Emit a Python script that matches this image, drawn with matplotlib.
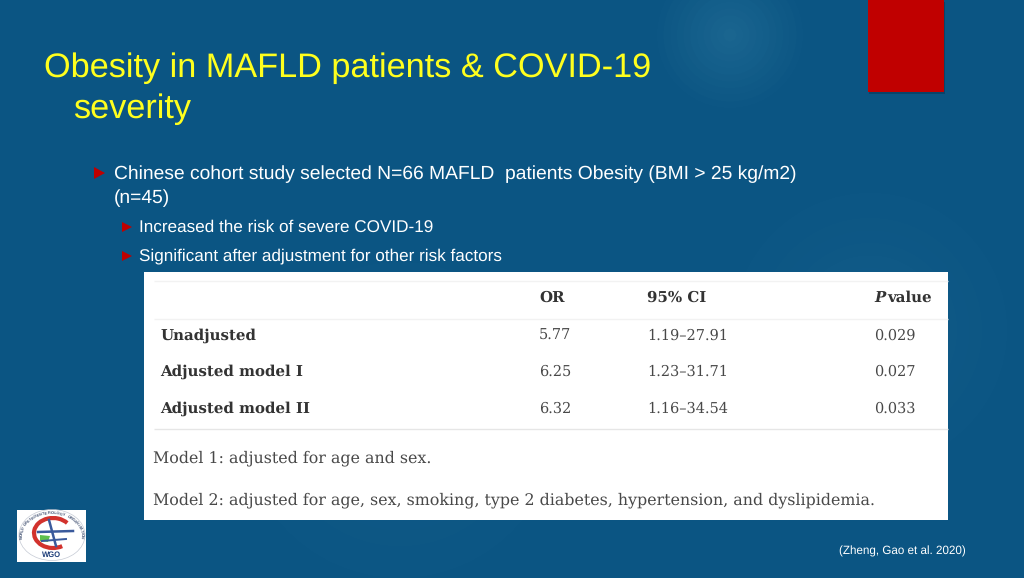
import numpy as np
import matplotlib
matplotlib.use('Agg')
import matplotlib.pyplot as plt
from matplotlib.colors import to_rgb
from matplotlib.patches import Rectangle, Circle, Ellipse, Arc, Polygon

plt.rcParams['text.hinting'] = 'no_hinting'
plt.rcParams['text.hinting_factor'] = 8

title_lines = ['Obesity in MAFLD patients & COVID-19', 'severity']
bullet_main = ['Chinese cohort study selected N=66 MAFLD  patients Obesity (BMI > 25 kg/m2)', '(n=45)']
bullet_sub = ['Increased the risk of severe COVID-19', 'Significant after adjustment for other risk factors']
row_names = ['Unadjusted', 'Adjusted model I', 'Adjusted model II']
or_vals = ['5.77', '6.25', '6.32']
ci_vals = ['1.19–27.91', '1.23–31.71', '1.16–34.54']
p_vals = ['0.029', '0.027', '0.033']
notes = ['Model 1: adjusted for age and sex.',
         'Model 2: adjusted for age, sex, smoking, type 2 diabetes, hypertension, and dyslipidemia.']
citation = '(Zheng, Gao et al. 2020)'
logo_ring = 'WORLD GASTROENTEROLOGY ORGANISATION'

BG = '#0b5583'
RED = '#c00000'
SERIF = 'DejaVu Serif'
SANS = 'Liberation Sans'

fig = plt.figure(figsize=(10.24, 5.78), dpi=100, facecolor=BG)
ax = fig.add_axes([0, 0, 1, 1])
ax.set_xlim(0, 1024)
ax.set_ylim(578, 0)
ax.axis('off')

# soft lighter blobs in the background, opaque rings so the tint stays blue
base = np.array(to_rgb(BG))
for (cx, cy, r, peak) in [(730, 35, 80, '#1b6690'), (870, 330, 150, '#125c89'), (400, 420, 190, '#105a87')]:
    for k in range(12, 0, -1):
        col = base + (np.array(to_rgb(peak)) - base) * (1 - k / 12)
        ax.add_patch(Circle((cx, cy), r * k / 12, fc=col, ec='none'))

# red tab, with a thin shadow
ax.add_patch(Rectangle((869, 2), 76, 92, fc='#0a3350', ec='none', alpha=0.5))
ax.add_patch(Rectangle((868, 0), 76, 92, fc=RED, ec='none'))

# title
ax.text(44, 68, title_lines[0], color='#ffff1e', fontsize=24.66, family=SANS, va='center')
ax.text(73, 109, title_lines[1], color='#ffff1e', fontsize=24.66, family=SANS, va='center')


def arrow(x, y, w, h):
    ax.add_patch(Polygon([(x, y - h / 2), (x + w, y), (x, y + h / 2)], fc=RED, ec='none'))


# bullets
arrow(94, 173, 11, 12)
ax.text(114, 174, bullet_main[0], color='white', fontsize=13.86, family=SANS, va='center')
ax.text(114, 198, bullet_main[1], color='white', fontsize=13.86, family=SANS, va='center')
for txt, y in zip(bullet_sub, [227, 256]):
    arrow(122, y, 10, 10)
    ax.text(139, y, txt, color='white', fontsize=12.3, family=SANS, va='center')

# table image panel
ax.add_patch(Rectangle((144, 272), 804, 248, fc='white', ec='none'))
for y, c in zip([281, 319, 429], ['#f2f2f2', '#f2f2f2', '#e6e6e6']):
    ax.plot([154, 948], [y, y], color=c, lw=1, solid_capstyle='butt')

TXT = '#484848'
HEAD = '#333333'
ax.text(539, 298, 'OR', color=HEAD, fontsize=10.8, family=SERIF, weight='bold', va='center')
ax.text(647, 298, '95% CI', color=HEAD, fontsize=10.8, family=SERIF, weight='bold', va='center')
ax.text(874, 298, 'P', color=HEAD, fontsize=10.8, family=SERIF, weight='bold', style='italic', va='center')
ax.text(887, 298, 'value', color=HEAD, fontsize=10.8, family=SERIF, weight='bold', va='center')

for name, o, ci, p, y in zip(row_names, or_vals, ci_vals, p_vals, [336, 372, 409]):
    ax.text(160, y, name, color=HEAD, fontsize=10.8, family=SERIF, weight='bold', va='center')
    ax.text(539, y, o, color=TXT, fontsize=10.45, family=SERIF, va='center')
    ax.text(647, y, ci, color=TXT, fontsize=10.45, family=SERIF, va='center')
    ax.text(874, y, p, color=TXT, fontsize=10.45, family=SERIF, va='center')

ax.text(153, 458, notes[0], color=TXT, fontsize=11.46, family=SERIF, va='center')
ax.text(153, 500, notes[1], color=TXT, fontsize=11.46, family=SERIF, va='center')

# WGO logo
ax.add_patch(Rectangle((17, 510), 69, 52, fc='white', ec='none'))
ax.add_patch(Ellipse((52, 535), 66, 51, fc='none', ec='#c5cad4', lw=0.5))
ax.add_patch(Arc((53, 533), 38, 30, theta1=55, theta2=325, color='#d2322d', lw=3))
ax.add_patch(Polygon([(40, 535), (50, 536), (48, 542), (40, 541)], fc='#5fc04c', ec='none'))
ax.plot([49, 56], [520, 546], color='#3a5a9c', lw=1.8)
ax.plot([38, 73], [532, 531], color='#3a5a9c', lw=1.8)
ax.plot([42, 66], [541, 539], color='#3a5a9c', lw=1.4)
ax.text(52, 555, 'WGO', color='#1f3f7a', fontsize=5.5, family=SANS, weight='bold', ha='center', va='center')
# ring lettering, one rotated character at a time
for ch, ang in zip(logo_ring, np.linspace(175, 365, len(logo_ring))):
    t = np.radians(ang)
    ax.text(52 + 30 * np.cos(t), 535 + 22 * np.sin(t), ch, color='#3f4f70', fontsize=2.8,
            family=SANS, weight='bold', ha='center', va='center', rotation=-(ang - 270))

ax.text(966, 551, citation, color='white', fontsize=8.4, family=SANS, ha='right', va='center')

fig.savefig('out.png', dpi=100, facecolor=BG)
